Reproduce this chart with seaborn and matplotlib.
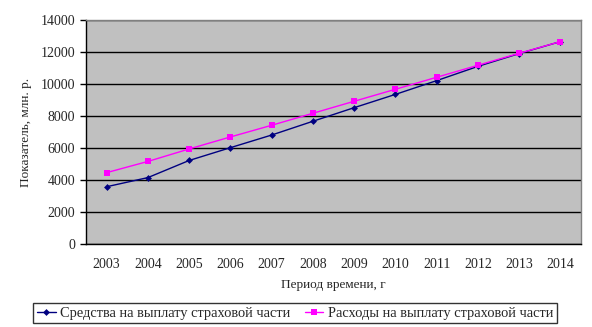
import matplotlib
matplotlib.use("Agg")
import matplotlib.pyplot as plt
import seaborn as sns
import pandas as pd
import numpy as np
from matplotlib.lines import Line2D

years = ["2003", "2004", "2005", "2006", "2007", "2008", "2009", "2010", "2011", "2012", "2013", "2014"]
funds = [3580, 4150, 5220, 6020, 6810, 7670, 8520, 9350, 10210, 11100, 11900, 12650]
expenses = [4460, 5160, 5940, 6690, 7420, 8170, 8920, 9670, 10420, 11170, 11920, 12650]
series_names = ["Средства на выплату страховой части", "Расходы на выплату страховой части"]
y_label = "Показатель, млн. р."
x_label = "Период времени, г"

sns.set_theme(style="white")
plt.rcParams["font.family"] = ["Liberation Serif", "DejaVu Serif"]

df = pd.DataFrame({
    "idx": list(range(len(years))) * 2,
    "value": funds + expenses,
    "series": [series_names[0]] * len(years) + [series_names[1]] * len(years),
})

fig = plt.figure(figsize=(5.92, 3.27), dpi=100)
ax = fig.add_axes([86 / 592, 1 - 244 / 327, (581 - 86) / 592, (244 - 20) / 327])
ax.set_facecolor("#c0c0c0")

sns.lineplot(data=df, x="idx", y="value", hue="series", style="series",
             palette={series_names[0]: "#000080", series_names[1]: "#ff00ff"},
             markers={series_names[0]: "D", series_names[1]: "s"},
             dashes=False, linewidth=1.0, ax=ax, legend=False,
             markeredgewidth=0)
lines = ax.get_lines()
lines[0].set_markersize(3.5)
lines[1].set_markersize(5)

ax.set_ylim(0, 14000)
ax.set_xlim(-0.5, len(years) - 0.5)
ax.set_yticks(np.arange(0, 14001, 2000))
ax.set_yticklabels([str(v) for v in range(0, 14001, 2000)], fontsize=10)
ax.yaxis.grid(True, color="black", linewidth=1.0)
ax.set_axisbelow(True)

ax.set_xticks(range(len(years)))
ax.set_xticklabels(years, fontsize=10)
ax.set_xticks(np.arange(-0.5, len(years), 1.0), minor=True)
ax.tick_params(axis="x", which="major", length=0, pad=10)
ax.tick_params(axis="x", which="minor", length=4, width=1, color="black", direction="out")
ax.tick_params(axis="y", length=4, width=1, color="black", direction="out", left=True, pad=4)

for s in ["top", "right"]:
    ax.spines[s].set_color("#808080")
    ax.spines[s].set_linewidth(1.0)
for s in ["left", "bottom"]:
    ax.spines[s].set_color("black")
    ax.spines[s].set_linewidth(1.0)

ax.set_ylabel(y_label, fontsize=9.5, labelpad=6)
ax.set_xlabel(x_label, fontsize=9.5, labelpad=6)

handles = [
    Line2D([], [], color="#000080", marker="D", markersize=3.5, markeredgewidth=0, linewidth=1.0),
    Line2D([], [], color="#ff00ff", marker="s", markersize=5, markeredgewidth=0, linewidth=1.0),
]
leg = fig.legend(handles, series_names, loc="center", bbox_to_anchor=(295 / 592, 1 - 313 / 327),
                 ncol=2, frameon=True, fancybox=False, edgecolor="black", fontsize=10.4,
                 handlelength=1.3, handletextpad=0.3, columnspacing=1.0, borderpad=0.25)
leg.get_frame().set_linewidth(1.0)

fig.savefig("out.png", dpi=100)
